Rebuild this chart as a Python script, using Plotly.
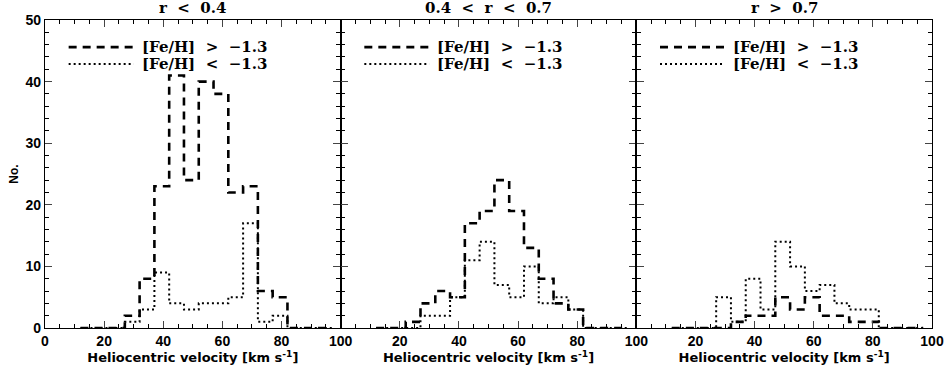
import plotly.graph_objects as go
from plotly.subplots import make_subplots

# histogram bins (km/s), 5 km/s wide
bin_left = [12, 17, 22, 27, 32, 37, 42, 47, 52, 57, 62, 67, 72, 77, 82, 87, 92]
bin_width = 5

# r < 0.4
p1_rich = [0, 0, 0, 2, 8, 23, 41, 24, 40, 38, 22, 23, 6, 5, 0, 0, 0]
p1_poor = [0, 0, 0, 1, 3, 9, 4, 3, 4, 4, 5, 17, 1, 2, 0, 0, 0]
# 0.4 < r < 0.7
p2_rich = [0, 0, 1, 4, 6, 5, 17, 19, 24, 19, 13, 8, 4, 3, 0, 0, 0]
p2_poor = [0, 0, 0, 2, 2, 5, 11, 14, 7, 5, 10, 4, 5, 3, 0, 0, 0]
# r > 0.7
p3_rich = [0, 0, 0, 0, 1, 2, 2, 5, 3, 5, 2, 2, 1, 1, 0, 0, 0]
p3_poor = [0, 0, 0, 5, 1, 8, 3, 14, 10, 6, 7, 4, 3, 3, 0, 0, 0]

titles = ["r  <  0.4", "0.4  <  r  <  0.7", "r  >  0.7"]
leg_labels = ["[Fe/H]  >  \u22121.3", "[Fe/H]  <  \u22121.3"]
xlabel = "Heliocentric velocity [km s<sup>-1</sup>]"

panels = [(p1_rich, p1_poor), (p2_rich, p2_poor), (p3_rich, p3_poor)]

fig = make_subplots(rows=1, cols=3, horizontal_spacing=0)

edges = bin_left + [bin_left[-1] + bin_width]
dash_style = dict(color="black", width=2.6, dash="8px,6px")
dot_style = dict(color="black", width=2, dash="2px,3px")
serif = "DejaVu Serif"

for i, (rich, poor) in enumerate(panels, start=1):
    fig.add_trace(go.Scatter(x=edges, y=rich + [rich[-1]], mode="lines",
                             line=dict(shape="hv", **dash_style),
                             showlegend=False), row=1, col=i)
    fig.add_trace(go.Scatter(x=edges, y=poor + [poor[-1]], mode="lines",
                             line=dict(shape="hv", **dot_style),
                             showlegend=False), row=1, col=i)

    xr = "x" if i == 1 else f"x{i}"
    yr = "y" if i == 1 else f"y{i}"
    # legend drawn inside each panel
    for k, (sty, lab) in enumerate(zip([dash_style, dot_style], leg_labels)):
        yy = 45.6 - 2.75 * k
        fig.add_shape(type="line", xref=xr, yref=yr, x0=8, x1=30, y0=yy, y1=yy,
                      line=sty)
        fig.add_annotation(x=32, y=yy, xref=xr, yref=yr, text="<b>" + lab + "</b>",
                           showarrow=False, xanchor="left", yanchor="middle",
                           font=dict(family=serif, size=15, color="black"))

    fig.add_annotation(x=50, y=1.0, xref=xr, yref="paper", yshift=1,
                       text="<b>" + titles[i - 1] + "</b>", showarrow=False,
                       xanchor="center", yanchor="bottom",
                       font=dict(family=serif, size=15, color="black"))

    fig.update_xaxes(range=[0, 100], tickmode="array",
                     tickvals=[0, 20, 40, 60, 80, 100] if i == 1 else [20, 40, 60, 80, 100],
                     ticks="inside", ticklen=7, tickwidth=1.2, mirror="allticks",
                     showline=True, linecolor="black", linewidth=1.4,
                     minor=dict(dtick=5, ticks="inside", ticklen=4, tickwidth=1,
                                tickcolor="black"),
                     tickfont=dict(family="Liberation Sans", size=14, color="black",
                                   weight="bold"),
                     title=dict(text="<b>" + xlabel + "</b>", standoff=2,
                                font=dict(family="DejaVu Sans", size=13, color="black")),
                     automargin=False,
                     showgrid=False, zeroline=False, row=1, col=i)
    fig.update_yaxes(range=[0, 50], dtick=10, ticks="inside", ticklen=7, tickwidth=1.2,
                     mirror="allticks", showline=True, linecolor="black", linewidth=1.4,
                     minor=dict(dtick=2, ticks="inside", ticklen=4, tickwidth=1,
                                tickcolor="black"),
                     showticklabels=(i == 1),
                     tickfont=dict(family="Liberation Sans", size=14, color="black",
                                   weight="bold"),
                     automargin=False,
                     showgrid=False, zeroline=False, row=1, col=i)

fig.update_yaxes(title=dict(text="<b>No.</b>", standoff=4,
                            font=dict(family="Liberation Sans", size=12, color="black")),
                 row=1, col=1)

fig.update_layout(
    width=945, height=372,
    margin=dict(l=45, r=13, t=20, b=44),
    plot_bgcolor="white", paper_bgcolor="white",
    showlegend=False,
)

# drop the default page margin so the figure fills the window
fig.write_html("out.html", config={"displayModeBar": False},
               post_script="document.body.style.margin='0';")
